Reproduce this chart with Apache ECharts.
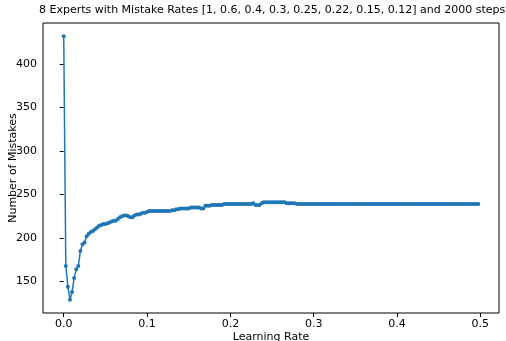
<!DOCTYPE html>
<html>
<head>
<meta charset="utf-8">
<script src="https://cdn.jsdelivr.net/npm/echarts@6/dist/echarts.min.js"></script>
<style>
  html, body { margin: 0; padding: 0; background: #fff; }
  #main { width: 506px; height: 341px; }
</style>
</head>
<body>
<div id="main"></div>
<script>
// learning rates run 0, 0.0025, ... (one per mistake value)
const LR_STEP = 0.0025;

// number of mistakes
const mistakes = [
  432, 168, 144, 129, 138, 154, 164, 168, 185, 193, 195,
  202, 205, 207, 208, 210, 212, 214, 215, 216, 216,
  217, 218, 219, 220, 220, 222, 224, 225, 226, 226,
  225, 224, 224, 226, 227, 227, 228, 229, 229, 230,
  231, 231, 231, 231, 231, 231, 231, 231, 231, 231, 231,
  232, 232, 233, 233,
  234, 234, 234, 234, 234,
  235, 235, 235, 235, 235,
  234, 234,
  237, 237, 237,
  238, 238, 238, 238, 238, 238,
  239, 239, 239, 239, 239, 239, 239, 239, 239, 239, 239, 239, 239, 239,
  240,
  238, 238, 238,
  240,
  241, 241, 241, 241, 241, 241, 241, 241, 241, 241, 241,
  240, 240, 240, 240, 240,
  239, 239, 239, 239, 239, 239, 239, 239, 239, 239,
  239, 239, 239, 239, 239, 239, 239, 239, 239, 239,
  239, 239, 239, 239, 239, 239, 239, 239, 239, 239,
  239, 239, 239, 239, 239, 239, 239, 239, 239, 239,
  239, 239, 239, 239, 239, 239, 239, 239, 239, 239,
  239, 239, 239, 239, 239, 239, 239, 239, 239, 239,
  239, 239, 239, 239, 239, 239, 239, 239, 239, 239,
  239, 239, 239, 239, 239, 239, 239, 239, 239, 239,
  239, 239, 239, 239, 239, 239, 239, 239
];

const xTicks = [0, 0.1, 0.2, 0.3, 0.4, 0.5];
const yTicks = [150, 200, 250, 300, 350, 400];

const title = '8 Experts with Mistake Rates [1, 0.6, 0.4, 0.3, 0.25, 0.22, 0.15, 0.12] and 2000 steps';

const points = mistakes.map((m, i) => [+(i * LR_STEP).toFixed(4), m]);

const font = 'DejaVu Sans';
const chart = echarts.init(document.getElementById('main'));

chart.setOption({
  animation: false,
  backgroundColor: '#fff',
  title: {
    text: title,
    left: 39,
    top: 5,
    padding: 0,
    textStyle: { fontFamily: font, fontSize: 11, fontWeight: 'normal', color: '#000' }
  },
  grid: {
    left: 43, right: 7, top: 23, bottom: 28,
    outerBoundsMode: 'none',
    containLabel: false,
    show: true, borderColor: '#000', borderWidth: 1
  },
  xAxis: {
    type: 'value',
    min: -0.024875,
    max: 0.522375,
    name: 'Learning Rate',
    nameLocation: 'middle',
    nameGap: 19,
    nameMoveOverlap: false,
    nameTextStyle: { fontFamily: font, fontSize: 11, color: '#000' },
    axisLine: { show: false },
    splitLine: { show: false },
    axisTick: { show: true, length: 4, customValues: xTicks, lineStyle: { color: '#000' } },
    axisLabel: {
      customValues: xTicks,
      margin: 6,
      fontFamily: font, fontSize: 11, color: '#000',
      formatter: v => v.toFixed(1)
    }
  },
  yAxis: {
    type: 'value',
    min: 113.85,
    max: 447.15,
    name: 'Number of Mistakes',
    nameLocation: 'middle',
    nameRotate: 90,
    nameGap: 24,
    nameMoveOverlap: false,
    nameTextStyle: { fontFamily: font, fontSize: 11, color: '#000' },
    axisLine: { show: false },
    splitLine: { show: false },
    axisTick: { show: true, length: 4, customValues: yTicks, lineStyle: { color: '#000' } },
    axisLabel: {
      customValues: yTicks,
      margin: 6,
      fontFamily: font, fontSize: 11, color: '#000'
    }
  },
  series: [{
    type: 'line',
    data: points,
    symbol: 'circle',
    symbolSize: 4,
    showAllSymbol: true,
    lineStyle: { color: '#1f77b4', width: 1.5 },
    itemStyle: { color: '#1f77b4' }
  }]
});
</script>
</body>
</html>
